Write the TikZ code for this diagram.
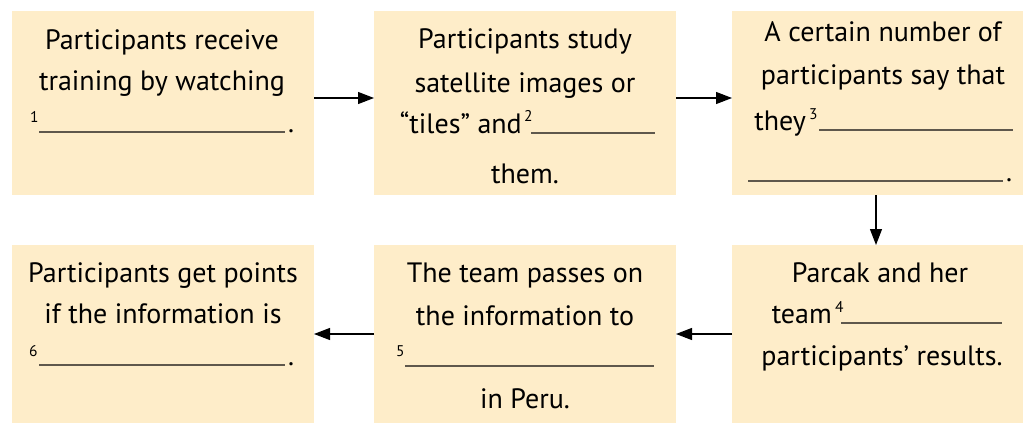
\documentclass[tikz,border=0pt]{standalone}
\usepackage{fontspec}
\setmainfont{PT Sans}
\usetikzlibrary{arrows.meta}
\definecolor{boxfill}{RGB}{254,237,201}
\definecolor{blankline}{RGB}{95,88,76}
\begin{document}
\begin{tikzpicture}[x=1pt,y=-1pt,
  stepbox/.style={fill=boxfill, draw=none, inner sep=0pt, outer sep=0pt, minimum width=302pt},
  toprow/.style={minimum height=184pt},
  botrow/.style={minimum height=178pt},
  txt/.style={anchor=base, inner sep=0pt, font=\fontsize{28}{32}\selectfont},
  txtl/.style={txt, anchor=base west},
  txtr/.style={txt, anchor=base east},
  num/.style={anchor=base west, inner sep=0pt, font=\fontsize{15.5}{18}\selectfont},
  gapline/.style={draw=blankline, line width=1.1pt},
  flow/.style={line width=1.2pt, -{Triangle[length=16pt,width=12pt]}}
]
\useasboundingbox (0,0) rectangle (1023,423);

% the six steps
\node[stepbox, toprow] (b1) at (163,103) {};
\node[stepbox, toprow] (b2) at (525,103) {};
\node[stepbox, toprow, minimum width=291pt] (b3) at (877.5,103) {};
\node[stepbox, botrow] (b4) at (163,334) {};
\node[stepbox, botrow] (b5) at (525,334) {};
\node[stepbox, botrow, minimum width=291pt] (b6) at (877.5,334) {};

% step 1
\node[txt] (t1a) at (162,49) {Participants receive};
\node[txt] (t1b) at (162,90) {training by watching};
\node[num] (n1) at (30,122) {1};
\draw[gapline] (39,132) -- (285,132);
\node[txtl] (p1) at (288,132) {.};

% step 2
\node[txt] (t2a) at (525,48) {Participants study};
\node[txt] (t2b) at (525,92) {satellite images or};
\node[txtr] (t2c) at (522,133) {“tiles” and};
\node[num] (n2) at (524,121) {2};
\draw[gapline] (531,133) -- (655,133);
\node[txt] (t2d) at (525,183) {them.};

% step 3
\node[txt] (t3a) at (883,41) {A certain number of};
\node[txt] (t3b) at (883,84) {participants say that};
\node[txtr] (t3c) at (806,130) {they};
\node[num] (n3) at (809,119) {3};
\draw[gapline] (819,130) -- (1013,130);
\draw[gapline] (748,181) -- (1003,181);
\node[txtl] (p3) at (1006,181) {.};

% step 4
\node[txt] (t4a) at (880,282) {Parcak and her};
\node[txtr] (t4b) at (832,323) {team};
\node[num] (n4) at (835,312) {4};
\draw[gapline] (841,323) -- (1002,323);
\node[txt] (t4c) at (882,365) {participants’ results.};

% step 5
\node[txt] (t5a) at (525,282) {The team passes on};
\node[txt] (t5b) at (525,325) {the information to};
\node[num] (n5) at (396,356) {5};
\draw[gapline] (405,366) -- (654,366);
\node[txt] (t5c) at (525,408) {in Peru.};

% step 6
\node[txt] (t6a) at (163,282) {Participants get points};
\node[txt] (t6b) at (163,323) {if the information is};
\node[num] (n6) at (29,356) {6};
\draw[gapline] (39,365) -- (285,365);
\node[txtl] (p6) at (288,365) {.};

% flow between the steps
\draw[flow] ([yshift=5pt]b1.east) -- ([yshift=5pt]b2.west);
\draw[flow] ([yshift=5pt]b2.east) -- ([yshift=5pt]b3.west);
\draw[flow] ([xshift=-1.5pt]b3.south) -- ([xshift=-1.5pt]b6.north);
\draw[flow] (b6.west) -- (b5.east);
\draw[flow] (b5.west) -- (b4.east);
\end{tikzpicture}
\end{document}
